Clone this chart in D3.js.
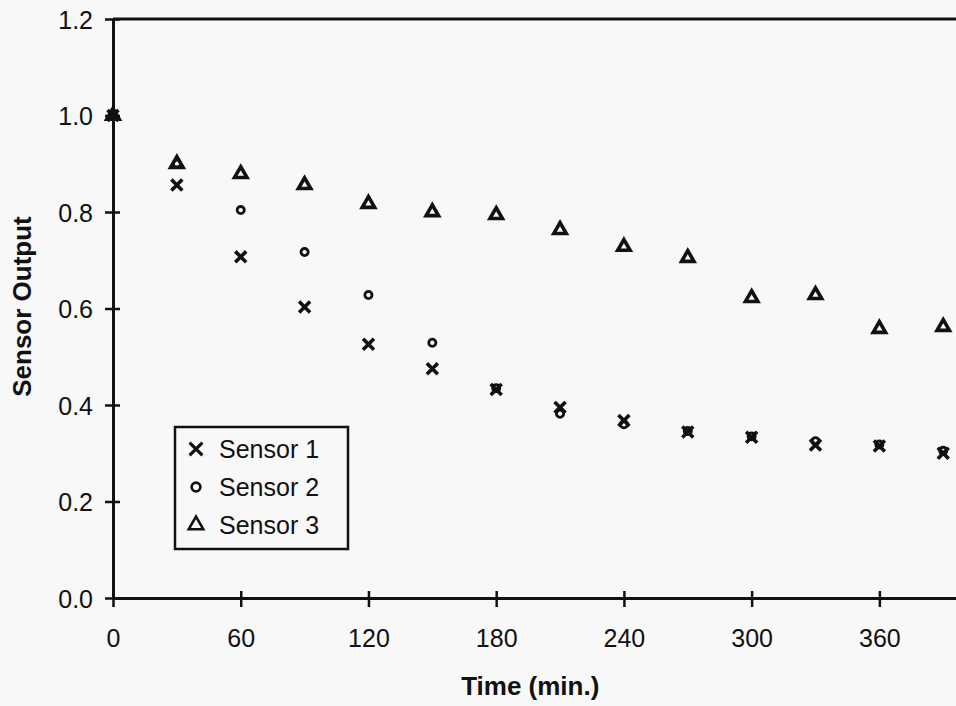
<!DOCTYPE html>
<html>
<head>
<meta charset="utf-8">
<script src="https://cdn.jsdelivr.net/npm/d3@7"></script>
<style>
    body { margin: 0; background: #f8f8f8; }
    svg { display: block; font-family: "Liberation Sans", Arial, sans-serif; }
</style>
</head>
<body>
<div id="chart"></div>
<script>
// DATA //
const times = [0, 30, 60, 90, 120, 150, 180, 210, 240, 270, 300, 330, 360, 390]
const sensor1 = [1.0, 0.856, 0.707, 0.603, 0.526, 0.475, 0.432, 0.395, 0.368, 0.344, 0.333, 0.317, 0.315, 0.300]
const sensor2 = [1.0, 0.900, 0.804, 0.717, 0.628, 0.529, 0.435, 0.382, 0.360, 0.346, 0.335, 0.325, 0.318, 0.305]
const sensor3 = [1.0, 0.900, 0.879, 0.856, 0.817, 0.800, 0.794, 0.763, 0.728, 0.705, 0.622, 0.628, 0.558, 0.562]
const seriesNames = ["Sensor 1", "Sensor 2", "Sensor 3"]
const xTicks = [0, 60, 120, 180, 240, 300, 360]
const yTicks = [0, 0.2, 0.4, 0.6, 0.8, 1.0, 1.2]

// GLOBAL VARIABLES //
let dimensions = {
    width: 956,
    height: 706,
    margin: {
        top: 19,
        right: 0,
        bottom: 108,
        left: 113,
    },
}

dimensions.boundedWidth = dimensions.width
    - dimensions.margin.left
    - dimensions.margin.right

dimensions.boundedHeight = dimensions.height
    - dimensions.margin.top
    - dimensions.margin.bottom

const xScale = d3.scaleLinear()
    .domain([0, 396])
    .range([0, dimensions.boundedWidth])

const yScale = d3.scaleLinear()
    .domain([0, 1.2])
    .range([dimensions.boundedHeight, 0])

// symbol for each sensor (plot marks, then legend marks)
const symbols = [
    { type: d3.symbolTimes, size: 80, width: 3.6, legendSize: 110, legendWidth: 3.2 },
    { type: d3.symbolCircle, size: 40, width: 2.8, legendSize: 60, legendWidth: 2.6 },
    { type: d3.symbolTriangle2, size: 110, width: 3.6, legendSize: 150, legendWidth: 2.6 },
]

const series = seriesNames.map((name, i) => ({
    name: name,
    symbol: symbols[i],
    values: [sensor1, sensor2, sensor3][i].map((v, j) => ({ t: times[j], v: v })),
}))

const xAccessor = d => d.t
const yAccessor = d => d.v

function drawChart() {
    const wrapper = d3.select("#chart")
        .append("svg")
        .attr("width", dimensions.width)
        .attr("height", dimensions.height)

    const bounds = wrapper.append("g")
        .attr("transform", `translate(${dimensions.margin.left}, ${dimensions.margin.top})`)

    // top frame line
    bounds.append("line")
        .attr("x1", xScale(0))
        .attr("x2", xScale(396))
        .attr("y1", yScale(1.2))
        .attr("y2", yScale(1.2))
        .attr("stroke", "#111")
        .attr("stroke-width", 3)

    // axes
    const xAxis = bounds.append("g")
        .attr("transform", `translate(0, ${dimensions.boundedHeight})`)
        .call(d3.axisBottom(xScale)
            .tickValues(xTicks)
            .tickSize(9)
            .tickSizeOuter(0)
            .tickPadding(22))

    const yAxis = bounds.append("g")
        .call(d3.axisLeft(yScale)
            .tickValues(yTicks)
            .tickFormat(d3.format(".1f"))
            .tickSize(8)
            .tickSizeOuter(0)
            .tickPadding(12))

    // ticks cross the axis line
    xAxis.selectAll(".tick").append("line")
        .attr("y2", -7)
    yAxis.selectAll(".tick").append("line")
        .attr("x2", 7)

    bounds.selectAll(".domain")
        .attr("stroke", "#111")
        .attr("stroke-width", 3)
    bounds.selectAll(".tick line")
        .attr("stroke", "#111")
        .attr("stroke-width", 2.5)
    bounds.selectAll(".tick text")
        .attr("fill", "#111")
        .style("font-size", "25px")
    yAxis.selectAll(".tick text").attr("dy", "0.36em")

    // axis titles
    bounds.append("text")
        .attr("transform", "rotate(-90)")
        .attr("x", -yScale(0.6) + 2)
        .attr("y", -dimensions.margin.left + 31)
        .attr("text-anchor", "middle")
        .attr("fill", "#111")
        .style("font-size", "26px")
        .style("font-weight", "bold")
        .text("Sensor Output")

    bounds.append("text")
        .attr("x", xScale(196))
        .attr("y", dimensions.boundedHeight + 97)
        .attr("text-anchor", "middle")
        .attr("fill", "#111")
        .style("font-size", "26px")
        .style("font-weight", "bold")
        .text("Time (min.)")

    // points
    series.forEach(s => {
        const sym = d3.symbol().type(s.symbol.type).size(s.symbol.size)
        bounds.append("g").selectAll("path")
            .data(s.values)
            .join("path")
            .attr("transform", d => `translate(${xScale(xAccessor(d))}, ${yScale(yAccessor(d))})`)
            .attr("d", sym)
            .attr("fill", "none")
            .attr("stroke", "#111")
            .attr("stroke-width", s.symbol.width)
    })

    // legend
    const legend = wrapper.append("g")
        .attr("transform", "translate(175, 427)")

    legend.append("rect")
        .attr("width", 173)
        .attr("height", 122)
        .attr("fill", "none")
        .attr("stroke", "#111")
        .attr("stroke-width", 2.5)

    const legendItems = legend.selectAll(".item")
        .data(series)
        .join("g")
        .attr("class", "item")
        .attr("transform", (d, i) => `translate(0, ${22 + i * 38})`)

    legendItems.append("path")
        .attr("transform", "translate(21, 0)")
        .attr("d", d => d3.symbol().type(d.symbol.type).size(d.symbol.legendSize)())
        .attr("fill", "none")
        .attr("stroke", "#111")
        .attr("stroke-width", d => d.symbol.legendWidth)

    legendItems.append("text")
        .attr("x", 44)
        .attr("y", 9)
        .attr("fill", "#111")
        .style("font-size", "25px")
        .text(d => d.name)
}

drawChart()
</script>
</body>
</html>
